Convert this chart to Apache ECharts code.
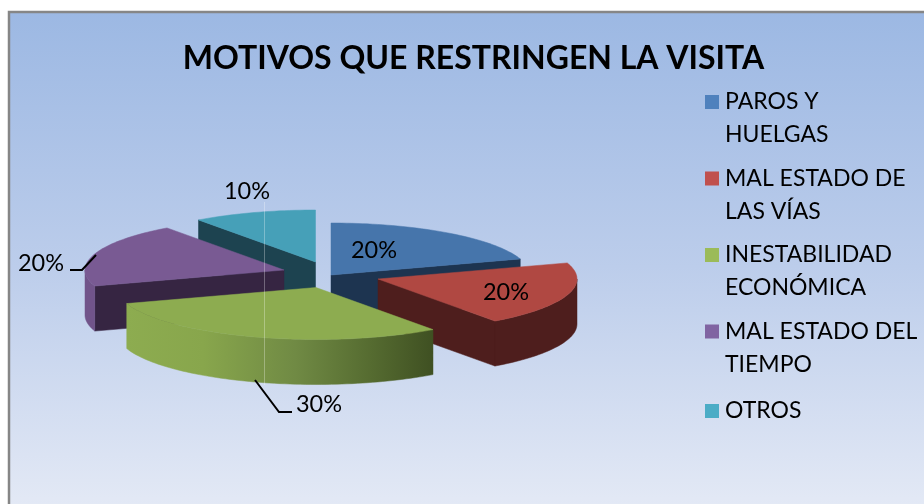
<!DOCTYPE html>
<html><head><meta charset="utf-8">
<style>html,body{margin:0;padding:0;background:#fff}#c{width:924px;height:504px}</style>
<script src="https://cdn.jsdelivr.net/npm/echarts@6/dist/echarts.min.js"></script>
</head><body><div id="c"></div>
<script>
const titleText = 'MOTIVOS QUE RESTRINGEN LA VISITA';
const categories = ['PAROS Y HUELGAS','MAL ESTADO DE LAS VÍAS','INESTABILIDAD ECONÓMICA','MAL ESTADO DEL TIEMPO','OTROS'];
const legendLines = ['PAROS Y\nHUELGAS','MAL ESTADO DE\nLAS VÍAS','INESTABILIDAD\nECONÓMICA','MAL ESTADO DEL\nTIEMPO','OTROS'];
const values = [20,20,30,20,10];

// styling and layout (not data)
const topColors  = ['#4675ab','#b04842','#8dac50','#795a93','#46a0b8'];
const faceColors = ['#1d3450','#4e1e1d','#4d6228','#362542','#1d4350'];
const keyColors  = ['#4f81bd','#c0504d','#9bbb59','#8064a2','#4bacc6'];
const apexes = [[331,275],[378,279],[316,287.5],[284,270],[315.5,262]];
const labelPos = [[374,250],[506,292.5],[319,404],[41,263.5],[247,191.5]];
const leaders = [null,null,[[255,380],[279,412],[292,412]],[[96,255],[82,270],[70,270]],null];
const zOrder = [3,4,5,2,1];
const RX = 199, RY = 52, DEPTH = 45;
const FONT = 'Lato, "Open Sans", sans-serif';

const total = values.reduce((a,b)=>a+b,0);
const startOf = i => values.slice(0,i).reduce((a,b)=>a+b,0)/total*360;
const pt = (c,deg,dy=0) => { const r=deg*Math.PI/180; return [c[0]+RX*Math.sin(r), c[1]-RY*Math.cos(r)+dy]; };
const arc = (c,a,b,dy=0) => { const out=[]; const n=Math.max(2,Math.ceil(Math.abs(b-a)/1.5)); for(let k=0;k<=n;k++) out.push(pt(c,a+(b-a)*k/n,dy)); return out; };

function wallFill(i){
  if(i===2) return {type:'linear',x:0,y:0,x2:1,y2:0,colorStops:[
    {offset:0,color:'#8dac50'},{offset:0.25,color:'#88a64c'},{offset:0.55,color:'#708a44'},{offset:0.8,color:'#556b30'},{offset:1,color:'#3f5022'}]};
  if(i===3) return '#71548a';
  return faceColors[i];
}

function renderItem(params, api){
  const i = params.seriesIndex;
  const a = startOf(i), b = a + api.value(0)/total*360, c = apexes[i];
  const kids = [];
  const poly = (points,fill) => kids.push({type:'polygon',shape:{points},style:{fill,stroke:fill,lineWidth:0.5}});
  // radial cut faces that look toward the viewer
  const radial = deg => poly([c,pt(c,deg),pt(c,deg,DEPTH),[c[0],c[1]+DEPTH]],faceColors[i]);
  if(a>180 && a<360) radial(a);
  if(b>0 && b<180) radial(b);
  // outer rim, only the front half of the ellipse
  const w0=Math.max(a,90), w1=Math.min(b,270);
  if(w1>w0) poly(arc(c,w0,w1).concat(arc(c,w1,w0,DEPTH)),wallFill(i));
  // top surface
  poly([c].concat(arc(c,a,b)),topColors[i]);
  // leader line and label
  if(leaders[i]) kids.push({type:'polyline',shape:{points:leaders[i]},style:{stroke:'#000',lineWidth:2,fill:null}});
  kids.push({type:'text',x:labelPos[i][0],y:labelPos[i][1],style:{
    text:Math.round(api.value(0)/total*100)+'%',font:'23.5px '+FONT,fill:'#000',align:'center',verticalAlign:'middle'}});
  return {type:'group',children:kids};
}

const series = categories.map((name,i)=>({
  type:'custom',name,coordinateSystem:'none',z:zOrder[i]+2,silent:true,animation:false,
  itemStyle:{color:keyColors[i]},data:[values[i]],renderItem
}));
const fmt = n => legendLines[categories.indexOf(n)];
const legendBase = {orient:'vertical',itemWidth:14,selectedMode:false,align:'left',padding:0,itemGap:10.5,
  textStyle:{fontFamily:FONT,fontSize:23,color:'#000',lineHeight:33,padding:[0,0,0,1]},formatter:fmt};
const twoLine = 'path://M0,9.5H14V23.5H0Z M0,0L0.01,0 M0,66L0.01,66';

const chart = echarts.init(document.getElementById('c'),null,{renderer:'canvas'});
chart.setOption({
  animation:false,
  title:{text:titleText,left:468.5,top:33,textAlign:'center',textStyle:{fontFamily:FONT,fontSize:32,fontWeight:'bold',color:'#000',lineHeight:42}},
  legend:[
    Object.assign({},legendBase,{left:705,top:85.5,itemHeight:66,data:categories.slice(0,4).map(name=>({name,icon:twoLine}))}),
    Object.assign({},legendBase,{left:705,top:394.5,itemHeight:14,data:[{name:categories[4],icon:'rect'}]})
  ],
  graphic:[
    {type:'rect',z:-10,silent:true,shape:{x:9,y:12,width:930,height:510},style:{stroke:'#868686',lineWidth:2.5,
      fill:{type:'linear',x:0,y:0,x2:0,y2:1,colorStops:[{offset:0,color:'#9cb8e3'},{offset:0.5,color:'#bccdeb'},{offset:1,color:'#e6ebf6'}]}}},
    {type:'line',z:50,silent:true,shape:{x1:264.5,y1:202,x2:264.5,y2:385},style:{stroke:'rgba(255,255,255,0.3)',lineWidth:1}}
  ],
  series
});
</script></body></html>
